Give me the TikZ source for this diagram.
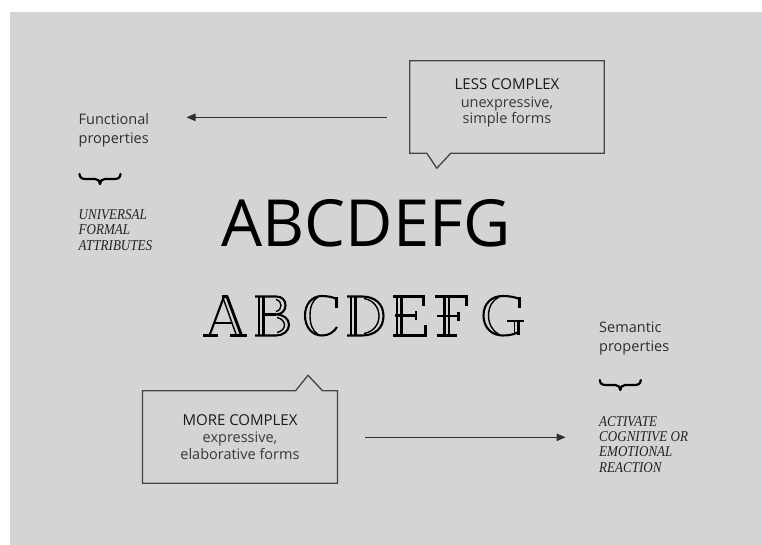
\documentclass[tikz,border=0pt]{standalone}
\usepackage{fontspec}
\setmainfont{Open Sans}
\newfontfamily\timesf{Liberation Serif}[FakeStretch=0.87]
\usetikzlibrary{arrows.meta}
\definecolor{bg}{HTML}{D3D4D6}
\definecolor{lbl}{HTML}{2E2E2E}
\definecolor{itc}{HTML}{222222}
\definecolor{ttl}{HTML}{1A1A1A}
\definecolor{sub}{HTML}{383838}
\definecolor{ln}{HTML}{444444}
\tikzset{
  lab/.style={anchor=base west, inner sep=0, text=lbl, font=\fontsize{14.5}{16}\selectfont},
  itl/.style={anchor=base west, inner sep=0, text=itc, font=\timesf\itshape\fontsize{15}{15}\selectfont},
  ttlt/.style={anchor=base, inner sep=0, text=ttl, font=\fontsize{15}{17}\selectfont},
  subt/.style={anchor=base, inner sep=0, text=sub, font=\fontsize{14.5}{16}\selectfont},
  boxl/.style={draw=ln, line width=1.3pt, line join=miter},
  arr/.style={draw=lbl, line width=1.1pt, -{Triangle[length=9pt,width=7.5pt]}},
  brc/.style={draw=black, line width=2.2pt, line cap=round, line join=round},
  ol/.style={draw=black, line width=2.1pt},
  olt/.style={draw=black, line width=2.9pt},
  il/.style={draw=black, line width=1.4pt},
}
\begin{document}
\begin{tikzpicture}[x=1pt,y=-1pt]
\useasboundingbox (0,0) rectangle (762,545);
\fill[white] (0,0) rectangle (762,545);
\fill[bg] (10,12) rectangle (762,545);

% left labels
\node[lab] (fun1) at (78.5,125) {Functional};
\node[lab] (fun2) at (78.5,144) {properties};
\draw[brc] (79.5,174) .. controls (79.8,178) and (82,179) .. (86,179) -- (95,179) .. controls (98,179) and (100,181) .. (100,184) .. controls (100,181) and (102,179) .. (105,179) -- (114,179) .. controls (118,179) and (120.2,178) .. (120.5,174);
\node[itl] (u1) at (78.5,220) {UNIVERSAL};
\node[itl] (u2) at (78.5,235) {FORMAL};
\node[itl] (u3) at (78.5,250) {ATTRIBUTES};

% less complex box
\node[minimum width=194pt, minimum height=92pt, inner sep=0] (less) at (507,107) {};
\draw[boxl] (less.north west) -- (less.north east) -- (less.south east) -- ([xshift=41pt]less.south west) -- ([xshift=27pt,yshift=-15pt]less.south west) -- ([xshift=17pt]less.south west) -- (less.south west) -- cycle;
\node[ttlt] (l1) at (507,90) {LESS COMPLEX};
\node[subt] (l2) at (507,107.5) {unexpressive,};
\node[subt] (l3) at (507,123.5) {simple forms};
\coordinate (a1s) at (386.5,117.3);
\coordinate (a1e) at (186.5,117.3);
\draw[arr] (a1s) -- (a1e);

% big sans
\node[anchor=base west, inner sep=0, font=\fontsize{65}{70}\selectfont] (big) at (221.5,246) {ABCDEFG};

% outline letters
% A
\draw[ol] (224,296.5) -- (209.5,335.5);
\draw[il] (222.5,296.5) -- (236.5,335.5);
\draw[olt] (227,296.5) -- (241.5,335.5);
\draw[ol] (222,296.5) -- (227.5,296.5);
\draw[ol] (214,323) -- (232,323);
\draw[ol] (203,335.5) -- (218,335.5);
\draw[ol] (229.5,335.5) -- (246.5,335.5);
% B
\draw[ol] (255,296.5) -- (276,296.5) .. controls (282,296.5) and (285.5,300) .. (285.5,305.5) .. controls (285.5,311) and (281,314.5) .. (276,314.5) .. controls (284,314.5) and (289,319) .. (289,325) .. controls (289,331) and (283,335.5) .. (276,335.5) -- (255,335.5);
\draw[ol] (259,296.5) -- (259,335.5);
\draw[olt] (263.5,296.5) -- (263.5,335.5);
\draw[ol] (263.5,314.5) -- (276,314.5);
\draw[il] (276,299.5) .. controls (279.5,300.5) and (281,303) .. (281,305.5) .. controls (281,308) and (279.5,310.5) .. (276,311.5);
\draw[il] (277,317.5) .. controls (281.5,318.5) and (284.5,321.5) .. (284.5,325) .. controls (284.5,328.5) and (281.5,331.5) .. (277,332.5);
% C
\draw[ol] (336.5,299) .. controls (333,297) and (327,296) .. (322,296) .. controls (312,296) and (305,304) .. (305,315.5) .. controls (305,327) and (312,335.5) .. (322,335.5) .. controls (329,335.5) and (334,332) .. (337,327);
\draw[ol] (336.5,296.5) -- (336.5,308);
\draw[il] (318,297) .. controls (312.5,300) and (310,307) .. (310,315.5) .. controls (310,324) and (312.5,331) .. (318,334.5);
% D
\draw[ol] (351,296.5) -- (351,335.5);
\draw[olt] (355.5,296.5) -- (355.5,335.5);
\draw[ol] (347,296.5) -- (362,296.5) .. controls (375,296.5) and (383.5,304) .. (383.5,316) .. controls (383.5,328) and (375,335.5) .. (362,335.5) -- (347,335.5);
\draw[il] (364,298.5) .. controls (373,300) and (379,307) .. (379,316) .. controls (379,325) and (373,332) .. (364,333.5);
% E
\draw[ol] (397,296.5) -- (397,335.5);
\draw[olt] (401.5,296.5) -- (401.5,335.5);
\draw[ol] (393,296.5) -- (423.5,296.5) -- (423.5,305.5);
\draw[ol] (395,315.5) -- (416,315.5);
\draw[ol] (416,311) -- (416,320);
\draw[ol] (393,335.5) -- (425.5,335.5) -- (425.5,325);
% F
\draw[ol] (444.5,296.5) -- (444.5,335.5);
\draw[olt] (449,296.5) -- (449,335.5);
\draw[ol] (435,296.5) -- (466.5,296.5) -- (466.5,306);
\draw[ol] (437,316) -- (458.5,316);
\draw[ol] (458.5,311.5) -- (458.5,320.5);
\draw[ol] (436.5,335.5) -- (457,335.5);
% G
\draw[ol] (519.5,299) .. controls (515,297) and (509,296) .. (503,296) .. controls (491,296) and (483.5,304) .. (483.5,315.5) .. controls (483.5,327) and (491,335.5) .. (503,335.5) .. controls (510,335.5) and (515,334) .. (518.5,332);
\draw[ol] (519.5,296.5) -- (519.5,308);
\draw[il] (499,297) .. controls (492.5,300) and (488.5,307) .. (488.5,315.5) .. controls (488.5,324) and (492.5,331) .. (499,334.5);
\draw[ol] (507,321) -- (524,321);
\draw[olt] (518.5,321) -- (518.5,335);
\draw[il] (514.5,321) -- (514.5,334);

% more complex box
\node[minimum width=194.5pt, minimum height=92pt, inner sep=0] (more) at (240,437) {};
\draw[boxl] (more.north west) -- ([xshift=153pt]more.north west) -- ([xshift=165.5pt,yshift=15.5pt]more.north west) -- ([xshift=180pt]more.north west) -- (more.north east) -- (more.south east) -- (more.south west) -- cycle;
\node[ttlt] (m1) at (240,425) {MORE COMPLEX};
\node[subt] (m2) at (240,442.5) {expressive,};
\node[subt] (m3) at (240,459) {elaborative forms};
\coordinate (a2s) at (365,437.3);
\coordinate (a2e) at (565.5,437.3);
\draw[arr] (a2s) -- (a2e);

% right labels
\node[lab] (sem1) at (599,332.7) {Semantic};
\node[lab] (sem2) at (599,351.7) {properties};
\draw[brc] (599.8,380) .. controls (600.1,384) and (602.3,385) .. (606.3,385) -- (615.3,385) .. controls (618.3,385) and (620.3,387) .. (620.3,390) .. controls (620.3,387) and (622.3,385) .. (625.3,385) -- (634.3,385) .. controls (638.3,385) and (640.5,384) .. (640.8,380);
\node[itl] (s1) at (599,426) {ACTIVATE};
\node[itl] (s2) at (599,441.5) {COGNITIVE OR};
\node[itl] (s3) at (599,456.5) {EMOTIONAL};
\node[itl] (s4) at (599,472) {REACTION};
\end{tikzpicture}
\end{document}
